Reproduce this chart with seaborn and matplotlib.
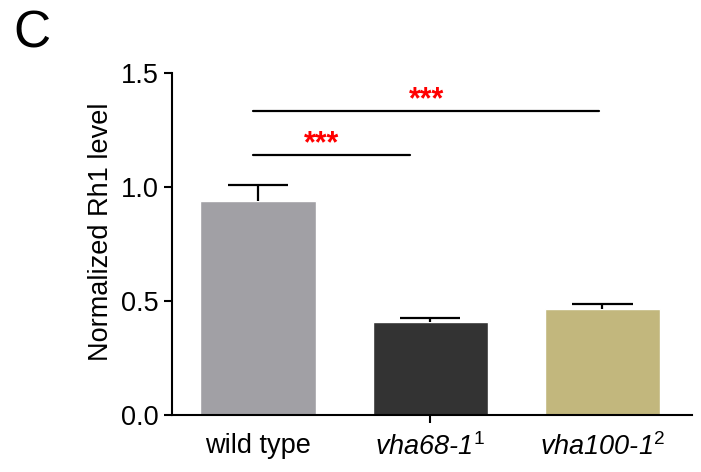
import matplotlib
matplotlib.use("Agg")
import matplotlib.pyplot as plt
import seaborn as sns
import pandas as pd
import numpy as np
from matplotlib.ticker import FormatStrFormatter

categories = ["wild type", "vha68-1", "vha100-1"]
tick_labels = ["wild type", "vha68-1$^{1}$", "vha100-1$^{2}$"]
means = [0.94, 0.41, 0.465]
errors = [0.07, 0.017, 0.022]
colors = ["#A1A0A5", "#333333", "#C2B77D"]

sig_starts = [-0.03, -0.03]
sig_ends = [0.88, 1.98]
sig_levels = [1.14, 1.333]
sig_text = ["***", "***"]
sig_text_x = [0.37, 0.98]

sns.set_style("ticks")
plt.rcParams["font.family"] = ["Liberation Sans", "DejaVu Sans"]
plt.rcParams["mathtext.fontset"] = "custom"
plt.rcParams["mathtext.it"] = "Liberation Sans:italic"
plt.rcParams["mathtext.rm"] = "Liberation Sans"
plt.rcParams["mathtext.default"] = "it"
plt.rcParams["text.color"] = "black"
plt.rcParams["axes.labelcolor"] = "black"
plt.rcParams["xtick.color"] = "black"
plt.rcParams["ytick.color"] = "black"

df = pd.DataFrame({"group": categories, "value": means})

fig = plt.figure(figsize=(7.01, 4.72), dpi=100)
ax = fig.add_axes([172/701, 1-415/472, (692-172)/701, (415-73)/472])

sns.barplot(data=df, x="group", y="value", hue="group", palette=colors,
            order=categories, width=0.67, errorbar=None, legend=False, ax=ax,
            saturation=1)
xpos = np.arange(len(categories))
tops = np.array(means) + np.array(errors)
ax.vlines(xpos, means, tops, color="black", lw=1.6, zorder=1)
ax.hlines(tops, xpos - 0.175, xpos + 0.175, color="black", lw=1.6, zorder=3)

for x0, x1, lvl, txt, tx in zip(sig_starts, sig_ends, sig_levels, sig_text, sig_text_x):
    ax.plot([x0, x1], [lvl, lvl], color="black", lw=1.6)
    ax.text(tx, lvl - 0.02, txt, color="#FF0000", ha="center", va="bottom",
            fontsize=22, fontweight="bold")

ax.set_xlim(-0.5, 2.52)
ax.set_ylim(0, 1.5)
ax.set_yticks([0, 0.5, 1.0, 1.5])
ax.yaxis.set_major_formatter(FormatStrFormatter("%.1f"))
ax.set_xticks(xpos)
ax.set_xticklabels(tick_labels)
for i, lab in enumerate(ax.get_xticklabels()):
    if i > 0:
        lab.set_fontstyle("italic")
ax.set_xlabel("")
ax.set_ylabel("Normalized Rh1 level", fontsize=19.5)
ax.yaxis.set_label_coords(-0.112, 0.535)
ax.tick_params(axis="both", labelsize=19.5, width=1.5, length=6, color="black")
ax.tick_params(axis="x", pad=7)
ticks = ax.xaxis.get_major_ticks()
ticks[0].tick1line.set_visible(False)
ticks[2].tick1line.set_visible(False)
for s in ["top", "right"]:
    ax.spines[s].set_visible(False)
for s in ["left", "bottom"]:
    ax.spines[s].set_linewidth(1.5)
    ax.spines[s].set_color("black")

fig.text(13/701, 1-48/472, "C", fontsize=37, ha="left", va="baseline")

fig.savefig("out.png", dpi=100)
